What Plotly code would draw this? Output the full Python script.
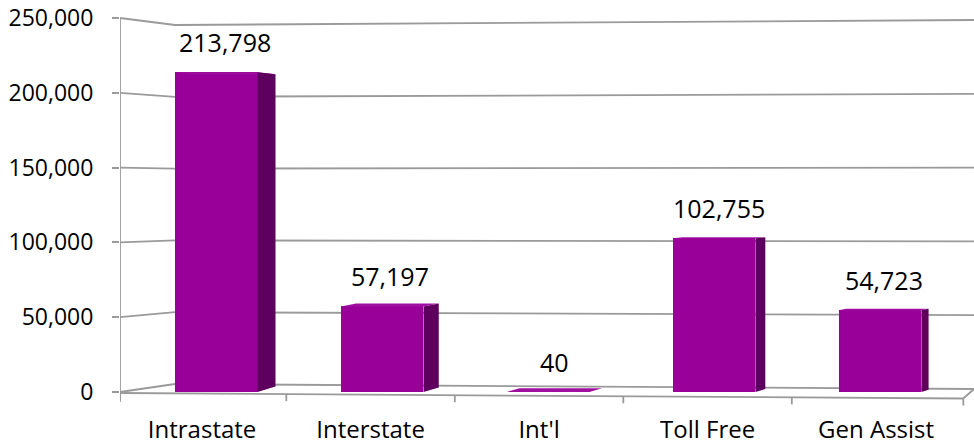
import plotly.graph_objects as go

# ---------------- data ----------------
categories = ["Intrastate", "Interstate", "Int'l", "Toll Free", "Gen Assist"]
values = [213798, 57197, 40, 102755, 54723]
value_labels = ["213,798", "57,197", "40", "102,755", "54,723"]
y_ticks = [0, 50000, 100000, 150000, 200000, 250000]
y_tick_labels = ["0", "50,000", "100,000", "150,000", "200,000", "250,000"]

# ---------------- geometry / style ----------------
W, H = 974, 446
ML, MR, MT, MB = 120, 0, 10, 36
PX_X = 168.5               # px per category unit (front floor edge)
PX_Y = 374 / 250000        # px per value unit
ZERO_PX = 392              # pixel row of value 0 (front plane)
X0 = -0.487
X1 = X0 + (W - ML - MR) / PX_X
Y0 = -((H - MB) - ZERO_PX) / PX_Y
Y1 = Y0 + (H - MT - MB) / PX_Y

BAR_W = 0.49
BAR_OFF = -0.191
BAR_SHRINK = 0.985         # bars sit slightly behind the front edge
FRONT = "#990099"
SIDE = "#5e005e"
TOP = "#a010a0"
GRID = "#9a9a9a"
FONT = "Open Sans"


def dx(px):
    return px / PX_X


def dy(px):
    return px / PX_Y


def depth_px(i):
    return 18 - 2.7 * i


def slope(v):
    return 0.3 - 0.42 * v / 214000


shapes = []


def seg(xa, ya, xb, yb, w=1.8):
    shapes.append(dict(type="line", xref="x", yref="y", x0=xa, y0=ya, x1=xb, y1=yb,
                       line=dict(color=GRID, width=w), layer="below"))


XB = X0 + dx(55)
for v in y_ticks:
    yb_left = v + dy(8 - v * 15 / 250000)
    yb_right = v + dy(3 - v * 5 / 250000)
    seg(X0, v, XB, yb_left)
    seg(XB, yb_left, X1, yb_right)

# y axis line
seg(X0, y_ticks[-1], X0, -dy(10))
# floor front & right edges
XF = len(categories) - 0.5 + dx(3)
floor_l = -dy(1)
floor_r = -dy(6.5)
seg(X0, floor_l, XF, floor_r)
seg(XF, floor_r, X1, dy(3))


def floor_y(x):
    return floor_l + (floor_r - floor_l) * (x - X0) / (XF - X0)


# category boundary ticks
bounds = [X0] + [k + 0.5 for k in range(len(categories) - 1)] + [XF]
for b in bounds:
    seg(b, floor_y(b), b, floor_y(b) - dy(7))

fig = go.Figure()
idx = list(range(len(categories)))
mid = (len(categories) - 1) / 2
bar_x = [mid + BAR_SHRINK * (i - mid) for i in idx]
fig.add_trace(go.Bar(x=bar_x, y=values, width=BAR_W, offset=BAR_OFF,
                     marker=dict(color=FRONT, line=dict(width=0)),
                     hoverinfo="skip", showlegend=False))

annotations = []
for i, v in enumerate(values):
    xl = bar_x[i] + BAR_OFF
    xr = xl + BAR_W
    dpx = depth_px(i)
    d = dx(dpx)
    top_up = dy(slope(v) * dpx)
    bot_up = dy(slope(0) * dpx)
    # top face
    fig.add_trace(go.Scatter(x=[xl, xr, xr + d, xl + d, xl],
                             y=[v, v, v + top_up, v + top_up, v],
                             fill="toself", fillcolor=TOP, mode="lines",
                             line=dict(width=0, color=TOP), hoverinfo="skip",
                             showlegend=False))
    # side face
    fig.add_trace(go.Scatter(x=[xr, xr, xr + d, xr + d, xr],
                             y=[0, v, v + top_up, bot_up, 0],
                             fill="toself", fillcolor=SIDE, mode="lines",
                             line=dict(width=0, color=SIDE), hoverinfo="skip",
                             showlegend=False))
    annotations.append(dict(x=xl + (BAR_W + d) / 2, y=v, xref="x", yref="y",
                            text=value_labels[i], showarrow=False,
                            yanchor="middle", yshift=30,
                            font=dict(family=FONT, size=25, color="black")))

fig.update_layout(
    width=W, height=H,
    margin=dict(l=ML, r=MR, t=MT, b=MB, pad=0, autoexpand=False),
    paper_bgcolor="white", plot_bgcolor="white",
    shapes=shapes, annotations=annotations,
    showlegend=False, bargap=0,
    font=dict(family=FONT, size=23, color="black"),
    xaxis=dict(range=[X0, X1], tickvals=idx, ticktext=categories,
               showgrid=False, zeroline=False, showline=False, ticks="",
               automargin=False,
               ticklabelstandoff=3, ticklabeloverflow="allow",
               tickfont=dict(family=FONT, size=24, color="black"), fixedrange=True),
    yaxis=dict(range=[Y0, Y1], tickvals=y_ticks, ticktext=y_tick_labels,
               showgrid=False, zeroline=False, showline=False,
               ticks="outside", ticklen=7, tickwidth=2, tickcolor=GRID,
               automargin=False,
               ticklabelstandoff=14, ticklabeloverflow="allow",
               tickfont=dict(family=FONT, size=23, color="black"), fixedrange=True),
)

fig.write_html("out.html",
               config={"displayModeBar": False, "staticPlot": True},
               post_script="document.body.style.margin='0px';document.body.style.overflow='hidden';")
